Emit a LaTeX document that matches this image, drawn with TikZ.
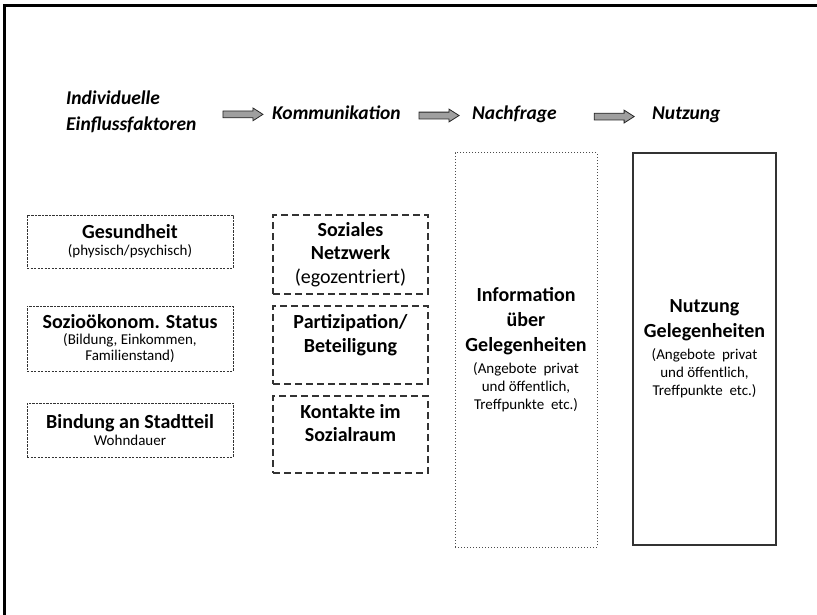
\documentclass[tikz,border=0pt]{standalone}
\usepackage{fontspec}
\setmainfont{Carlito}
\usepackage{tikz}
\usetikzlibrary{arrows.meta,positioning,shapes.arrows,calc}
\tikzset{
    head/.style={
        inner sep=0pt,
        align=left,
        font=\fontsize{19.5}{26}\selectfont\bfseries\itshape
    },
    factorbox/.style={
        draw=black!80,
        line width=0.9pt,
        dash pattern=on 2.2pt off 1.3pt,
        align=center,
        minimum width=206pt,
        font=\fontsize{15}{20}\selectfont
    },
    commbox/.style={
        draw=black!80,
        line width=1.1pt,
        dash pattern=on 7pt off 4pt,
        align=center,
        minimum width=155pt,
        font=\fontsize{15}{23.5}\selectfont
    },
    infobox/.style={
        draw=black!70,
        line width=1pt,
        dotted,
        align=center,
        minimum width=142pt,
        minimum height=394pt,
        font=\fontsize{15}{18}\selectfont
    },
    nutzbox/.style={
        draw=black!80,
        line width=1.5pt,
        align=center,
        minimum width=143pt,
        minimum height=392pt,
        font=\fontsize{15}{18}\selectfont
    },
    blockarrow/.style={
        single arrow,
        draw=black!85,
        fill=gray!75,
        line width=0.8pt,
        inner xsep=0pt,
        inner ysep=3pt,
        minimum height=40pt,
        single arrow head extend=3pt,
        single arrow head indent=0pt,
        single arrow tip angle=65
    }
}
\newcommand{\titel}[1]{{\fontsize{20}{23.5}\selectfont\bfseries #1}}

\begin{document}
\begin{tikzpicture}[x=1pt,y=-1pt]
        \useasboundingbox (0,0) rectangle (817,615);
        % Rahmen
        \draw[line width=3pt] (4.5,615) -- (4.5,5.5) -- (817,5.5);

        % Kopfzeile
        \node[head, anchor=west] (indiv) at (66,112) {Individuelle\\Einflussfaktoren};
        \node[head, anchor=base west] (komm) at (272,119.5) {Kommunikation};
        \node[head, anchor=base west] (nachfr) at (472,119.5) {Nachfrage};
        \node[head, anchor=base west] (nutz) at (652,119.5) {Nutzung};

        \node[blockarrow] (pfeil1) at ($(indiv.east)!0.5!(komm.west)+(6,2)$) {};
        \node[blockarrow] (pfeil2) at ($(komm.east)!0.5!(nachfr.west)+(0,2)$) {};
        \node[blockarrow] (pfeil3) at ($(nachfr.east)!0.5!(nutz.west)+(7,2)$) {};

        % Einflussfaktoren
        \node[factorbox, minimum height=53pt] (gesund) at (130,241.5)
            {\titel{Gesundheit}\\[-3pt](physisch/psychisch)};
        \node[factorbox, minimum height=65pt] (status) at (130,338.5)
            {\titel{Sozioökonom. Status}\\[-4pt](Bildung, Einkommen,\\[-4pt]Familienstand)};
        \node[factorbox, minimum height=54pt] (bindung) at (130,430)
            {\titel{Bindung an Stadtteil}\\[-3pt]Wohndauer};

        % Kommunikation
        \node[commbox, minimum height=79pt] (netzwerk) at (350.5,254.5)
            {\titel{Soziales}\\\titel{Netzwerk}\\{\fontsize{20}{23.5}\selectfont(egozentriert)}};
        \node[commbox, minimum height=78pt] (partizip) at (350.5,345)
            {\titel{Partizipation/}\\\titel{Beteiligung}\\\mbox{}};
        \node[commbox, minimum height=77pt] (kontakte) at (350.5,434.5)
            {\titel{Kontakte im}\\\titel{Sozialraum}\\\mbox{}};

        % Nachfrage / Nutzung
        \node[infobox] (info) at (526,350)
            {\titel{Information}\\[7pt]\titel{über}\\[7pt]\titel{Gelegenheiten}\\[4pt](Angebote~ privat\\und öffentlich,\\Treffpunkte~ etc.)};
        \node[nutzbox] (nutzung) at (704.5,349)
            {\titel{Nutzung}\\[7pt]\titel{Gelegenheiten}\\[4pt](Angebote~ privat\\und öffentlich,\\Treffpunkte~ etc.)};
    \end{tikzpicture}
\end{document}
